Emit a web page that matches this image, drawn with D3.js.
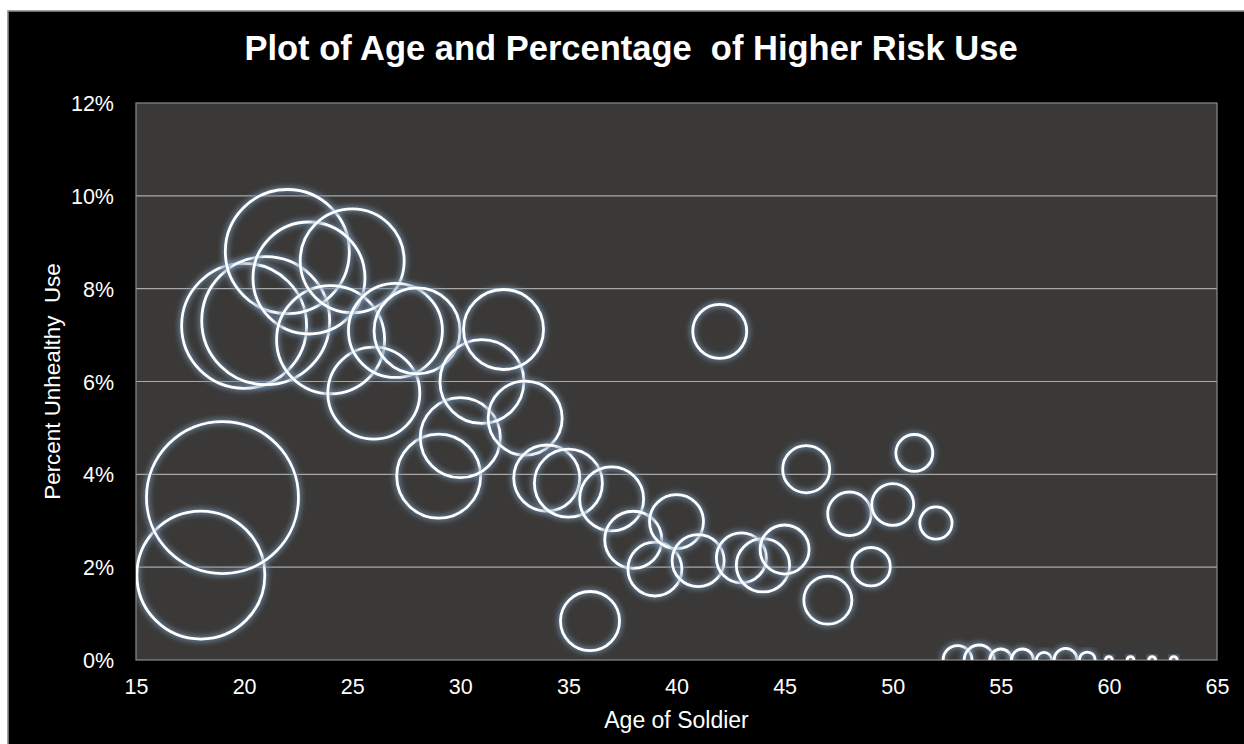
<!DOCTYPE html>
<html><head><meta charset="utf-8">
<script src="https://cdn.jsdelivr.net/npm/d3@7"></script>
<style>html,body{margin:0;padding:0;background:#fff;overflow:hidden}</style>
</head><body><div id="chart"></div>
<script>
const ages = [18,19,20,21,22,23,24,25,26,27,28,29,30,31,32,33,34,35,36,37,38,39,40,41,42,43,44,45,46,47,48,49,50,51,52,53,54,55,56,57,58,59,60,61,62,63];
const pctUnhealthy = [1.83,3.50,7.20,7.31,8.80,8.23,6.90,8.60,5.75,7.10,7.09,3.96,4.79,6.00,7.12,5.21,3.92,3.81,0.84,3.47,2.59,1.96,2.98,2.14,7.08,2.20,2.04,2.38,4.11,1.29,3.15,2.01,3.35,4.46,2.95,0,0,0,0,0,0,0,0,0,0,0];
const bubbleSize = [709,1000,676,709,666,543,505,468,366,382,320,305,277,305,277,237,189,200,151,177,141,126,126,117,126,108,123,104,96,100,82,64,76,59,45,36,39,21,21,10,23,11,2,2,2,2];
const xTicks = [15,20,25,30,35,40,45,50,55,60,65];
const yTicks = [0,2,4,6,8,10,12];
const titleText = "Plot of Age and Percentage  of Higher Risk Use";
const xTitle = "Age of Soldier";
const yTitle = "Percent Unhealthy  Use";

const W = 1244, H = 744;
const svg = d3.select("#chart").append("svg").attr("width", W).attr("height", H);

const defs = svg.append("defs");
const f = defs.append("filter").attr("id","glow").attr("x","-30%").attr("y","-30%").attr("width","160%").attr("height","160%");
f.append("feGaussianBlur").attr("stdDeviation", 2.6);

const L = 136, R = 1217, T = 103, B = 660;
defs.append("clipPath").attr("id","plotclip").append("rect").attr("x",L).attr("y",T).attr("width",R-L).attr("height",B-T);

// chart area
svg.append("rect").attr("x",8).attr("y",11).attr("width",W).attr("height",H).attr("fill","#000").attr("stroke","#8a8a8a").attr("stroke-width",1.6);

const x = d3.scaleLinear().domain([15,65]).range([L,R]);
const y = d3.scaleLinear().domain([0,12]).range([B,T]);
const r = d3.scaleSqrt().domain([0,1000]).range([0,76]);

svg.append("rect").attr("x",L).attr("y",T).attr("width",R-L).attr("height",B-T).attr("fill","#3a3938");

// grid lines
svg.append("g").selectAll("line").data(yTicks.filter(d=>d>0 && d<12)).join("line")
  .attr("x1",L).attr("x2",R).attr("y1",d=>y(d)).attr("y2",d=>y(d))
  .attr("stroke","#a9a9a9").attr("stroke-width",1.2);

// plot border
svg.append("rect").attr("x",L).attr("y",T).attr("width",R-L).attr("height",B-T).attr("fill","none").attr("stroke","#8c8c8c").attr("stroke-width",1.2);

// bubbles
const data = ages.map((a,i)=>({age:a, v:pctUnhealthy[i], s:bubbleSize[i]}));
const bg = svg.append("g").attr("clip-path","url(#plotclip)");
const grp = bg.selectAll("g.b").data(data).join("g").attr("class","b");
grp.append("circle").attr("cx",d=>x(d.age)).attr("cy",d=>y(d.v)).attr("r",d=>r(d.s))
  .attr("fill","none").attr("stroke","#6f8aa6").attr("stroke-opacity",0.7).attr("stroke-width",7).attr("filter","url(#glow)");
grp.append("circle").attr("cx",d=>x(d.age)).attr("cy",d=>y(d.v)).attr("r",d=>r(d.s))
  .attr("fill","none").attr("stroke","#ffffff").attr("stroke-width",2.8);

const font = "'Liberation Sans', Arial, sans-serif";
// axes
const xAxis = d3.axisBottom(x).tickValues(xTicks).tickSize(0).tickPadding(0).tickFormat(d3.format("d"));
const gx = svg.append("g").attr("transform",`translate(0,${B})`).call(xAxis);
gx.select(".domain").remove();
gx.selectAll("text").attr("fill","#fff").attr("font-family",font).attr("font-size",21.5).attr("dy",null).attr("y",34);

const yAxis = d3.axisLeft(y).tickValues(yTicks).tickSize(0).tickPadding(0).tickFormat(d=>d+"%");
const gy = svg.append("g").attr("transform",`translate(${L-22},0)`).call(yAxis);
gy.select(".domain").remove();
gy.selectAll("text").attr("fill","#fff").attr("font-family",font).attr("font-size",21.5).attr("dy","0.35em").attr("x",0);

// titles
svg.append("text").attr("x",631).attr("y",60).attr("text-anchor","middle").attr("fill","#fff")
  .attr("font-family",font).attr("font-weight","bold").attr("font-size",34.5).attr("xml:space","preserve").style("white-space","pre").text(titleText);
svg.append("text").attr("x",(L+R)/2).attr("y",728).attr("text-anchor","middle").attr("fill","#fff")
  .attr("font-family",font).attr("font-size",23).text(xTitle);
svg.append("text").attr("transform",`translate(60,${(T+B)/2}) rotate(-90)`).attr("text-anchor","middle").attr("fill","#fff")
  .attr("font-family",font).attr("font-size",22.4).attr("xml:space","preserve").style("white-space","pre").text(yTitle);
</script></body></html>
